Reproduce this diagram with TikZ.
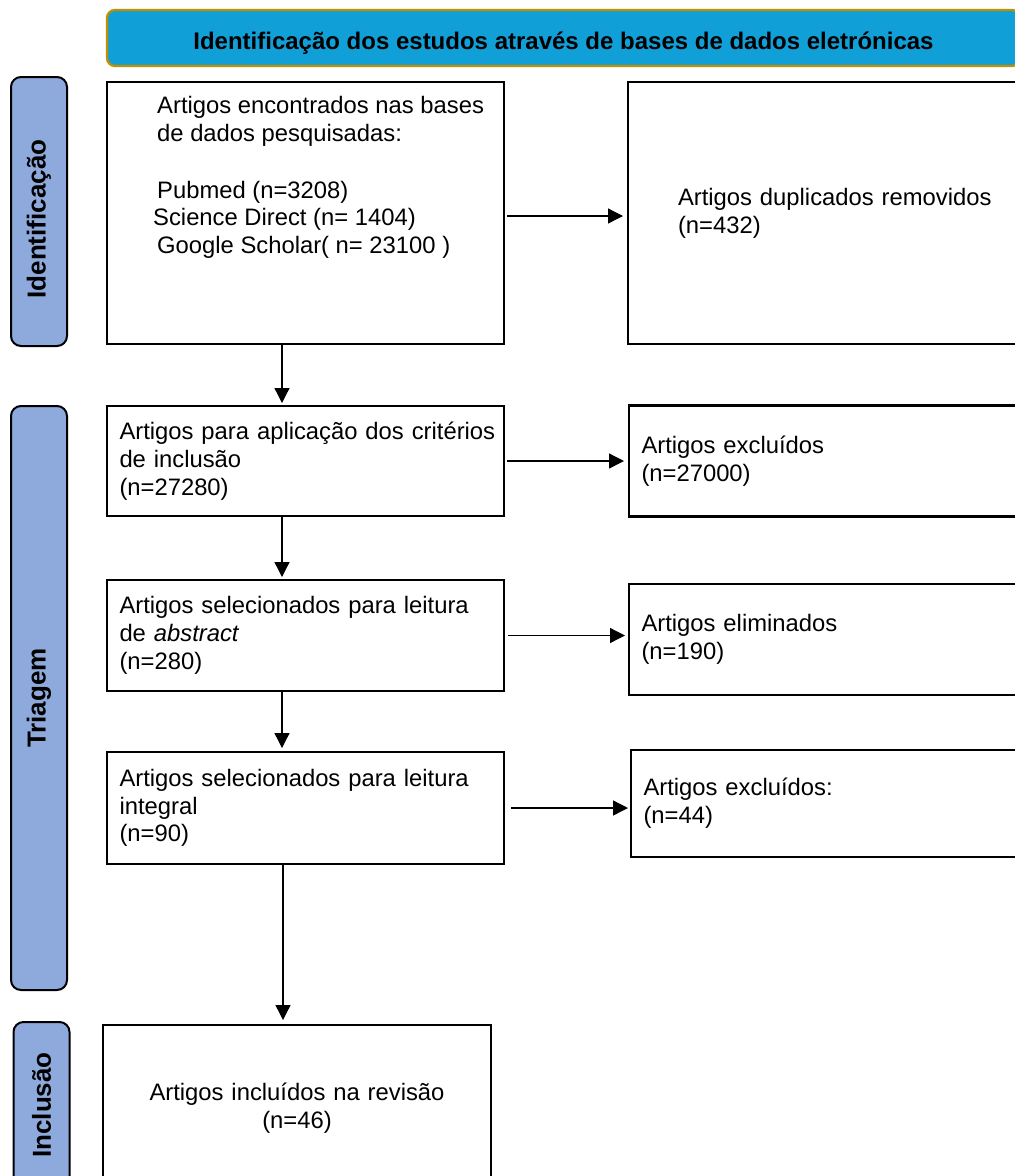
\documentclass[tikz,border=0pt]{standalone}
\usepackage{fontspec}
\setmainfont{Liberation Sans}
\usetikzlibrary{arrows.meta, positioning}
\definecolor{headblue}{RGB}{17,159,215}
\definecolor{headgold}{RGB}{191,144,0}
\definecolor{phaseblue}{RGB}{142,169,219}
\newcommand{\flowfont}{\fontsize{23.8}{27.7}\selectfont}

\begin{document}
\begin{tikzpicture}[
    x=1pt, y=-1pt,
    header/.style={rectangle, draw=headgold, fill=headblue, line width=2.3pt, rounded corners=8pt, minimum width=913pt, minimum height=56pt, text height=22pt, text depth=0pt, font=\bfseries\fontsize{24}{28}\selectfont},
    phase/.style={rectangle, draw=black, fill=phaseblue, line width=2pt, rounded corners=10pt, rotate=90, minimum height=56pt, font=\bfseries\fontsize{26}{30}\selectfont},
    stage/.style={rectangle, draw=black, line width=2.5pt, outer sep=0pt, inner xsep=12.5pt, inner ysep=0pt, text width=372pt, align=left, font=\flowfont},
    arrow/.style={-{Triangle[length=15pt, width=15pt]}, line width=1.3pt}
]
\useasboundingbox (0,0) rectangle (1015,1176);

\node[header] (head) at (563.5,38) {Identificação dos estudos através de bases de dados eletrónicas};

\node[phase, minimum width=269pt] (ident) at (39,211.5) {Identificação\hspace*{15pt}};
\node[phase, minimum width=584pt] (triage) at (39,698) {Triagem};
\node[phase, minimum width=166pt] (incl) at (41.5,1105) {Inclusão};

\node[stage, anchor=north west, minimum height=262pt] (found) at (107,82) {};
\node[anchor=north west, inner sep=0pt, align=left, font=\flowfont] (foundtxt) at (153,96)
    {\hspace*{4pt}Artigos encontrados nas bases\\\hspace*{4pt}de dados pesquisadas:\\[29.3pt]
     \hspace*{4pt}Pubmed (n=3208)\\Science Direct (n= 1404)\\\hspace*{4pt}Google Scholar( n= 23100 )};
\node[stage, below=62pt of found, minimum height=110pt] (crit) {\mbox{Artigos para aplicação dos critérios}\\de inclusão\\(n=27280)};
\node[stage, below=64pt of crit, minimum height=111pt] (abs) {Artigos selecionados para leitura\\de \textit{abstract}\\(n=280)};
\node[stage, below=61pt of abs, minimum height=112pt] (integ) {Artigos selecionados para leitura\\integral\\(n=90)};
\node[stage, anchor=north west, text width=363pt, align=center, minimum height=166pt] (final) at (103,1025) {Artigos incluídos na revisão\\(n=46)};

\node[stage, right=124pt of found, inner xsep=50pt, minimum height=262pt] (dup) {Artigos duplicados removidos\\(n=432)};
\node[stage, right=125pt of crit, minimum height=111pt] (excl) {Artigos excluídos\\(n=27000)};
\node[stage, right=125pt of abs, yshift=-4pt, minimum height=111pt] (elim) {Artigos eliminados\\(n=190)};
\node[stage, right=127pt of integ, yshift=4.5pt, minimum height=107pt] (excltwo) {Artigos excluídos:\\(n=44)};

\coordinate (trunk) at (282,0);
\draw[arrow, shorten >=3pt] (found.south -| trunk) -- (crit.north -| trunk);
\draw[arrow, shorten >=3pt] (crit.south -| trunk) -- (abs.north -| trunk);
\draw[arrow, shorten >=4pt] (abs.south -| trunk) -- (integ.north -| trunk);
\draw[arrow, shorten >=5pt] ([xshift=1pt]integ.south -| trunk) -- ([xshift=1pt]final.north -| trunk);

\draw[arrow, shorten >=5pt] ([xshift=3pt, yshift=-3pt]found.east) -- ([yshift=-3pt]found.east -| dup.west);
\draw[arrow, shorten >=5pt] ([xshift=3pt]crit.east) -- (crit.east -| excl.west);
\draw[arrow, shorten >=4pt] ([xshift=4pt]abs.east) -- (abs.east -| elim.west);
\draw[arrow, shorten >=3pt] ([xshift=7pt]integ.east) -- (integ.east -| excltwo.west);
\end{tikzpicture}
\end{document}
